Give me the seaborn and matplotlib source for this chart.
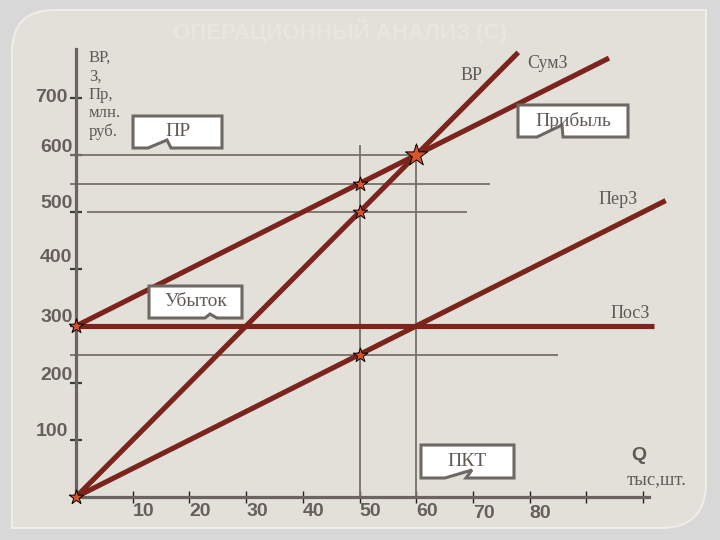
import matplotlib
matplotlib.use("Agg")
import matplotlib.pyplot as plt
import matplotlib.transforms as mtransforms
from matplotlib.path import Path
from matplotlib.patches import PathPatch, Polygon
import seaborn as sns

# ---------------------------------------------------------------
# DATA  (Q - тыс. шт., values - млн. руб.)
# ---------------------------------------------------------------
q_vr   = [0, 50, 60, 78]          # ВР
vr     = [0, 500, 600, 780]
q_sum  = [0, 50, 60, 94]          # СумЗ
sumz   = [300, 550, 600, 770]
q_per  = [0, 50, 104]             # ПерЗ
perz   = [0, 250, 520]
q_pos  = [0, 102]                 # ПосЗ
posz   = [300, 300]

star_q = [0, 0, 50, 50, 50]
star_v = [0, 300, 550, 500, 250]
bep_q  = [60]                     # точка безубыточности
bep_v  = [600]

guide_levels = [600, 550, 500, 250]
guide_from   = [-1, -1, 2, -1]
guide_to     = [60, 73, 69, 85]
guide_q      = [50, 60]
guide_top    = 617

x_ticks  = [10, 20, 30, 40, 50, 60, 70, 80, 90, 100]
x_labels = ["10", "20", "30", "40", "50", "60", "70", "80", "", ""]
y_ticks  = [100, 200, 300, 400, 500, 600, 700]
y_labels = ["100", "200", "300", "400", "500", "600", "700"]

# label offsets in pixels (layout only)
x_lab_dy = [-14, -14, -14, -14, -14, -14, -17, -17, 0, 0]
y_lab_off = [(-8, 8), (-3, 8), (-3, 8), (-4, 11), (-3, 8), (-3, 8), (-8, 1)]

# ---------------------------------------------------------------
# STYLE
# ---------------------------------------------------------------
sns.set_style("white")
plt.rcParams["font.family"] = ["Liberation Serif", "DejaVu Serif"]

RED   = "#7b241c"
STAR  = "#d9532c"
GRAY  = "#77706b"
AXC   = "#6b6461"
TXT   = "#5f5a56"
PANEL = "#e3e0da"

W, H = 720, 540
fig = plt.figure(figsize=(7.2, 5.4), dpi=100)
fig.patch.set_facecolor("#d8d8d8")
px = mtransforms.Affine2D().scale(1 / W, -1 / H).translate(0, 1) + fig.transFigure

# rounded panel
verts = [(12, 528), (12, 52), (12, 10), (54, 10), (706, 10), (706, 483),
         (706, 528), (661, 528), (12, 528)]
codes = [Path.MOVETO, Path.LINETO, Path.CURVE3, Path.CURVE3, Path.LINETO,
         Path.LINETO, Path.CURVE3, Path.CURVE3, Path.CLOSEPOLY]
panel = PathPatch(Path(verts, codes), facecolor=PANEL, edgecolor="#efede8",
                  lw=1.5, transform=px, zorder=-10)
fig.add_artist(panel)

# axes mapped so that 10 units of Q = 56.7 px, 100 units of value = 57 px
ax = fig.add_axes([0, 0, 1, 1])
ax.patch.set_alpha(0)
ax.set_xlim(-76 / 5.67, (W - 76) / 5.67)
ax.set_ylim((497 - H) / 0.57, 497 / 0.57)

# guide lines
ax.hlines(guide_levels, guide_from, guide_to, colors=GRAY, lw=1.3, zorder=1)
ax.vlines(guide_q, 0, guide_top, colors=GRAY, lw=1.3, zorder=1)

# main lines
for qq, vv in [(q_vr, vr), (q_sum, sumz), (q_per, perz), (q_pos, posz)]:
    sns.lineplot(x=qq, y=vv, ax=ax, color=RED, lw=3.7, zorder=3,
                 solid_capstyle="butt")

# stars
sns.scatterplot(x=star_q, y=star_v, ax=ax, marker="*", s=120, color=STAR,
                edgecolor="black", linewidth=0.7, zorder=6)
sns.scatterplot(x=bep_q, y=bep_v, ax=ax, marker="*", s=280, color=STAR,
                edgecolor="black", linewidth=0.7, zorder=6)

# axes spines
for side in ["top", "right"]:
    ax.spines[side].set_visible(False)
ax.spines["left"].set_position(("data", 0))
ax.spines["bottom"].set_position(("data", 0))
ax.spines["left"].set_bounds(0, 786)
ax.spines["bottom"].set_bounds(0, 101)
for side in ["left", "bottom"]:
    ax.spines[side].set_color(AXC)
    ax.spines[side].set_linewidth(2.3)
    ax.spines[side].set_zorder(2)

ax.set_xticks(x_ticks)
ax.set_yticks(y_ticks)
ax.tick_params(axis="x", bottom=True, direction="inout", length=8, width=1.0,
               color="#222222", labelbottom=False)
ax.tick_params(axis="y", left=True, direction="inout", length=8, width=1.6,
               color="#3d3d3d", labelleft=False)

tick_font = dict(family=["Liberation Sans", "DejaVu Sans"], weight="bold",
                 size=14, color="#66605c")
for q, lab, dy in zip(x_ticks, x_labels, x_lab_dy):
    ax.annotate(lab, xy=(q, 0), xytext=(0, dy), textcoords="offset pixels",
                ha="left", va="center", **tick_font)
for v, lab, (dx, dy) in zip(y_ticks, y_labels, y_lab_off):
    ax.annotate(lab, xy=(0, v), xytext=(dx, dy), textcoords="offset pixels",
                ha="right", va="center", **tick_font)

# title (faint)
fig.text(340, 31, "ОПЕРАЦИОННЫЙ АНАЛИЗ (С)", transform=px, ha="center",
         va="center", fontsize=16, weight="bold", color="#e9e6de",
         family=["Liberation Sans", "DejaVu Sans"])

# axis captions
fig.text(89, 50, "ВР,\nЗ,\nПр,\nмлн.\nруб.", transform=px, ha="left",
         va="top", fontsize=12, color=TXT, linespacing=1.2)
fig.text(639, 455, "Q", transform=px, ha="center", va="center", fontsize=14,
         weight="bold", color=TXT, family=["Liberation Sans", "DejaVu Sans"])
fig.text(657, 480, "тыс,шт.", transform=px, ha="center", va="center",
         fontsize=13.5, color=TXT)

# line names
for s, x, y in [("ВР", 472, 75), ("СумЗ", 548, 63), ("ПерЗ", 618, 200),
                ("ПосЗ", 630, 313)]:
    fig.text(x, y, s, transform=px, ha="center", va="center", fontsize=13,
             color=TXT)

# callouts: text, left, top, right, bottom, notch (x1, x2, ytip, x3)
callouts = [
    ("ПР", 133, 116, 222, 148, (148, 167, 140, 171)),
    ("Прибыль", 518, 105, 628, 137, (537, 562, 125, 563)),
    ("Убыток", 149, 286, 242, 318, (205, 210, 314, 217)),
    ("ПКТ", 421, 445, 514, 478, (445, 472, 470, 466)),
]
for text, l, t, r, b, (x1, x2, yt, x3) in callouts:
    poly = Polygon([(l, t), (r, t), (r, b), (x3, b), (x2, yt), (x1, b), (l, b)],
                   closed=True, facecolor="white", edgecolor="#6e6864",
                   lw=2.2, transform=px, zorder=8)
    fig.add_artist(poly)
    fig.text((l + r) / 2, (t + b) / 2, text, transform=px, ha="center",
             va="center", fontsize=14, color=TXT, zorder=9)

plt.savefig("out.png", dpi=100, facecolor=fig.get_facecolor())
